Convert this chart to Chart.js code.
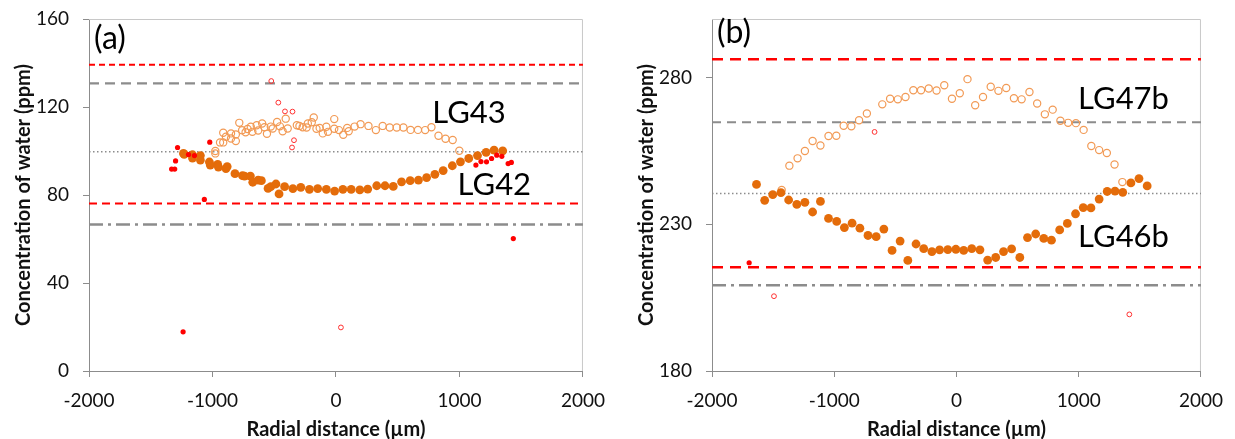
<!DOCTYPE html>
<html><head><meta charset="utf-8">
<script src="https://cdn.jsdelivr.net/npm/chart.js@4/dist/chart.umd.min.js"></script>
<style>
html,body{margin:0;padding:0;background:#fff;}
#wrap{position:relative;width:1235px;height:439px;overflow:hidden;}
.box{position:absolute;top:0;height:439px;}
#ba{left:0;width:617px;} #bb{left:617px;width:618px;}
</style></head><body>
<div id="wrap"><div class="box" id="ba"><canvas id="ca" width="617" height="439"></canvas></div><div class="box" id="bb"><canvas id="cb" width="618" height="439"></canvas></div></div>
<script>
// ---------- Panel (a) data ----------
const lg43X = [-977,-977,-939,-913,-913,-891,-850,-850,-811,-811,-783,-760,-732,-716,-690,-677,-642,-630,-598,-579,-559,-528,-512,-477,-454,-432,-407,-391,-317,-296,-270,-238,-228,-196,-180,-158,-132,-107,-78,-65,-14,-14,24,59,91,103,151,199,263,323,378,435,492,546,604,664,722,773,830,887,945,999];
const lg43Y = [98.9,100,103.9,103.9,108.3,106.5,108,105.7,107.5,104.5,112.8,109.4,108.5,110,111,108.7,111.7,109.3,112.5,110.8,107.8,111.1,110.2,113.2,111.2,109,114.7,110.2,111.7,111.4,110.8,110.7,112.5,113.1,115.2,110.1,110.5,108,111,108.7,114.5,110.1,109.5,107.4,110.5,109,111.1,112.2,111.4,109.5,111.4,110.7,110.7,110.7,109.6,109.6,109.5,110.8,106.9,105.6,105,100.1];
const lg42X = [-1235,-1229,-1162,-1162,-1098,-1098,-1025,-1018,-958,-952,-891,-881,-818,-757,-741,-693,-674,-630,-604,-550,-528,-486,-461,-416,-349,-285,-215,-148,-78,-11,56,123,193,257,330,397,464,531,601,668,734,801,868,942,1008,1075,1146,1216,1280,1350];
const lg42Y = [98.9,98.5,98.3,96.8,97.9,95.9,95,93.6,93.9,92.7,92,92.9,89.7,88.8,88.6,88.6,85.8,86.8,86.5,83,83.8,85,80.5,83.8,82.9,83.5,82.6,82.9,82.6,81.8,82.6,82.6,82.3,82.7,84.2,84.2,83.9,86,86.5,86.8,87.9,89.4,91.1,93.3,95.1,96.6,97.9,99.4,100.4,100.1];
const redFillAX = [-1331,-1306,-1299,-1283,-1238,-1194,-1146,-1066,-1022,1133,1174,1219,1260,1302,1343,1394,1420,1436];
const redFillAY = [91.8,91.8,95.5,101.6,17.8,98.4,97.9,78,104,93.6,95.2,95.1,96.6,98.1,97.6,94.3,94.8,60.2];
const redOpenAX = [-524,-467,-413,-352,-340,-356,40];
const redOpenAY = [131.8,122,118,117.9,104.9,101.6,19.8];
const refLinesA = [139.2,130.7,99.7,76.1,66.6];
const yTicksA = [0,40,80,120,160];
const yRangeA = [0,160];

// ---------- Panel (b) data ----------
const lg47bX = [-1430,-1367,-1300,-1240,-1177,-1113,-1047,-983,-923,-860,-797,-733,-607,-543,-480,-417,-353,-290,-227,-163,-100,-37,27,90,153,217,280,343,407,470,533,597,660,723,787,850,913,977,1040,1103,1167,1230,1293,1357];
const lg47bY = [241.7,250,252.5,255,258.4,256.9,260.1,260.2,263.6,263.4,265.5,267.8,270.9,272.8,272.6,273.4,275.7,275.7,276.3,275.6,277.4,272.8,274.7,279.5,270.6,273.4,276.9,275.5,276.5,273,272.6,275.1,271.2,267.5,269.1,265.3,264.6,264.5,262.2,256.7,255.3,254.3,250.4,244.4];
const lg46bX = [-1636,-1569,-1503,-1436,-1373,-1306,-1240,-1177,-1113,-1047,-980,-917,-854,-790,-724,-657,-594,-527,-461,-398,-331,-268,-201,-138,-71,-5,59,125,192,255,321,385,451,518,581,648,714,777,844,907,974,1037,1100,1167,1233,1297,1360,1427,1493,1560];
const lg46bY = [243.6,238.2,240.1,240.8,238.3,236.8,237.5,234.2,237.8,232,231,228.9,230.4,228.7,226.2,225.8,228.4,221.1,224.3,217.7,223.3,221.7,220.7,221.3,221.4,221.5,221.1,221.7,221.3,217.8,218.7,220.7,221.6,218.7,225.5,226.7,225.2,224.6,228.1,230.3,233.6,235.7,235.6,238.6,241.2,241.3,240.9,244.1,245.6,243.1];
const redFillBX = [-1696];
const redFillBY = [216.9];
const redOpenBX = [-1493,-670,1414];
const redOpenBY = [205.5,261.5,199.3];
const refLinesB = [286.3,264.8,240.5,215.4,209.2];
const yTicksB = [180,230,280];
const yRangeB = [180,300];

const xTickVals = [-2000,-1000,0,1000,2000];
const xRange = [-2000,2000];
const xTitle = 'Radial distance (µm)';
const yTitle = 'Concentration of water (ppm)';
const labelsA = ['(a)','LG43','LG42'];
const labelsB = ['(b)','LG47b','LG46b'];

// ---------- helpers ----------
const zip = (xs, ys) => xs.map((x, i) => ({x, y: ys[i]}));
const FONT = 'Lato, "Open Sans", "Liberation Sans", sans-serif';
const ORANGE = '#E46C0A';
const ORANGE_LIGHT = '#F29A55';
const RED = '#FF0000';
const GREY = '#8C8C8C';

function pointSets(filled, open, rf, ro) {
  return [
    {data: rf, pointRadius: 2.6, pointBackgroundColor: RED, pointBorderWidth: 0, showLine: false, order: 1},
    {data: ro, pointRadius: 2.4, pointBackgroundColor: 'rgba(0,0,0,0)', pointBorderColor: '#FF3030', pointBorderWidth: 1, showLine: false, order: 2},
    {data: filled, pointRadius: 4.4, pointBackgroundColor: ORANGE, pointBorderWidth: 0, showLine: false, order: 3},
    {data: open, pointRadius: 3.6, pointBackgroundColor: 'rgba(0,0,0,0)', pointBorderColor: ORANGE_LIGHT, pointBorderWidth: 1.2, showLine: false, order: 4},
  ];
}
function lineSets(vals, styles) {
  return vals.map((v, i) => ({
    data: [{x: xRange[0], y: v}, {x: xRange[1], y: v}],
    showLine: true, pointRadius: 0, borderColor: styles[i].c, borderWidth: styles[i].w,
    borderDash: styles[i].d, order: 10 + i, borderCapStyle: 'butt'
  }));
}
const stylesA = [
  {c: RED, w: 2, d: [6, 4]},
  {c: GREY, w: 2.2, d: [10, 6]},
  {c: GREY, w: 1.5, d: [1.5, 2.5]},
  {c: RED, w: 2, d: [8, 5]},
  {c: GREY, w: 2.5, d: [14, 5, 3, 5]},
];
const stylesB = [
  {c: RED, w: 2.5, d: [11, 7]},
  {c: GREY, w: 2.2, d: [9, 6]},
  {c: GREY, w: 1.5, d: [1.5, 2.5]},
  {c: RED, w: 2.5, d: [11, 7]},
  {c: GREY, w: 2.5, d: [14, 5, 3, 5]},
];

const framePlugin = {
  id: 'frame',
  beforeDatasetsDraw(chart) {
    const {ctx, chartArea: a} = chart;
    ctx.save();
    ctx.strokeStyle = '#C8C8C8';
    ctx.lineWidth = 1;
    ctx.beginPath();
    ctx.moveTo(a.left, a.top + 0.5); ctx.lineTo(a.right - 0.5, a.top + 0.5); ctx.lineTo(a.right - 0.5, a.bottom);
    ctx.stroke();
    ctx.restore();
  },
  afterDraw(chart, args, opts) {
    const {ctx, scales: {x, y}} = chart;
    ctx.save();
    ctx.fillStyle = '#000';
    ctx.textBaseline = 'middle';
    ctx.textAlign = 'left';
    (opts.items || []).forEach(it => {
      ctx.font = it.size + 'px ' + FONT;
      ctx.fillText(it.text, x.getPixelForValue(it.x), y.getPixelForValue(it.y));
    });
    ctx.restore();
  }
};

function makeChart(canvasId, sets, yRange, yTickVals, yAxisW, padRight, titlePad, items) {
  return new Chart(document.getElementById(canvasId), {
    type: 'scatter',
    data: {datasets: sets},
    plugins: [framePlugin],
    options: {
      responsive: false, animation: false, events: [],
      layout: {padding: {left: 0, right: padRight, top: 19, bottom: 0}},
      plugins: {legend: {display: false}, tooltip: {enabled: false}, frame: {items}},
      scales: {
        x: {
          type: 'linear', min: xRange[0], max: xRange[1],
          afterFit: s => { s.height = 68; },
          afterBuildTicks: s => { s.ticks = xTickVals.map(v => ({value: v})); },
          ticks: {color: '#111', font: {family: FONT, size: 19}, padding: 12, maxRotation: 0, callback: v => String(v)},
          grid: {display: true, drawOnChartArea: false, drawTicks: true, tickLength: 6, color: GREY},
          border: {display: true, color: GREY, width: 1},
          title: {display: true, text: xTitle, color: '#111', font: {family: FONT, size: 20, weight: 'bold'}, padding: {top: 0, bottom: -3}}
        },
        y: {
          type: 'linear', min: yRange[0], max: yRange[1],
          afterFit: s => { s.width = yAxisW; s.paddingTop = 0; s.paddingBottom = 0; },
          afterBuildTicks: s => { s.ticks = yTickVals.map(v => ({value: v})); },
          ticks: {color: '#111', font: {family: FONT, size: 19}, padding: 14, callback: v => String(v)},
          grid: {display: true, drawOnChartArea: false, drawTicks: true, tickLength: 6, color: GREY},
          border: {display: true, color: GREY, width: 1},
          title: {display: true, text: yTitle, color: '#111', font: {family: FONT, size: 20, weight: 'bold'}, padding: {top: titlePad, bottom: 0}}
        }
      }
    }
  });
}

const setsA = pointSets(zip(lg42X, lg42Y), zip(lg43X, lg43Y), zip(redFillAX, redFillAY), zip(redOpenAX, redOpenAY))
  .concat(lineSets(refLinesA, stylesA));
const setsB = pointSets(zip(lg46bX, lg46bY), zip(lg47bX, lg47bY), zip(redFillBX, redFillBY), zip(redOpenBX, redOpenBY))
  .concat(lineSets(refLinesB, stylesB));

makeChart('ca', setsA, yRangeA, yTicksA, 89, 30, 12, [
  {text: labelsA[0], x: -1960, y: 151.2, size: 32},
  {text: labelsA[1], x: 780, y: 117.5, size: 31},
  {text: labelsA[2], x: 985, y: 84.5, size: 31},
]);
makeChart('cb', setsB, yRangeB, yTicksB, 95, 25, 18, [
  {text: labelsB[0], x: -1960, y: 295.3, size: 32},
  {text: labelsB[1], x: 995, y: 272.8, size: 31},
  {text: labelsB[2], x: 995, y: 225.6, size: 31},
]);
</script>
</body></html>
